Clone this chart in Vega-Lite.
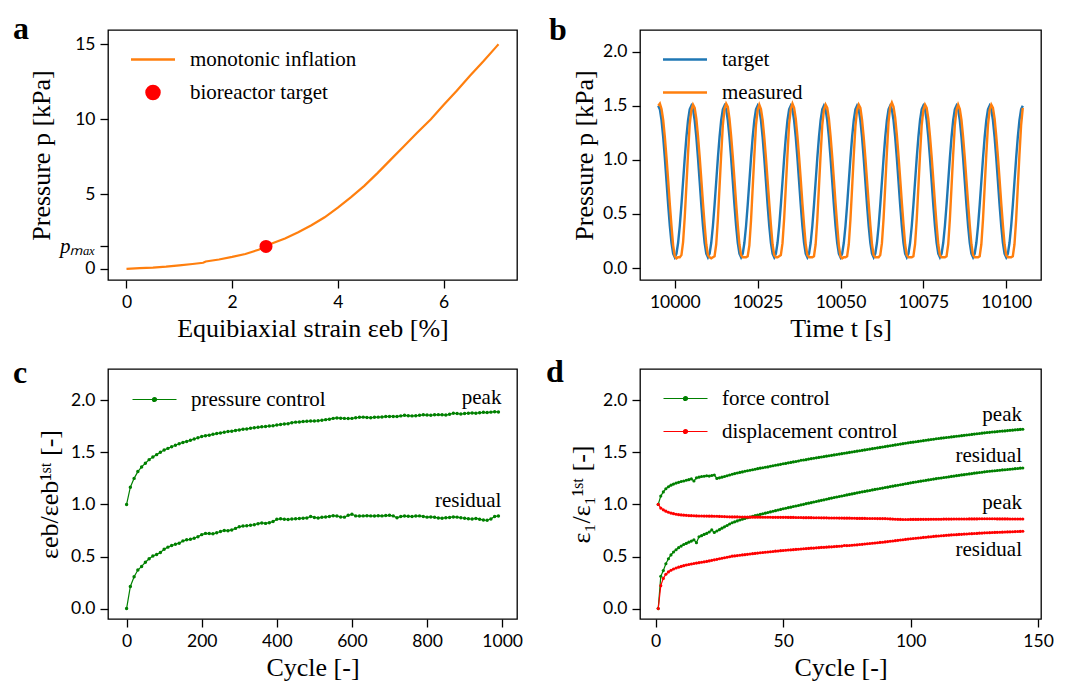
{
"$schema": "https://vega.github.io/schema/vega-lite/v6.json",
"background": "white",
"padding": {"left": 12, "top": 12, "right": 5, "bottom": 0},
"columns": 2,
"bounds": "flush",
"align": "each",
"spacing": {"row": 89, "column": 123},
"resolve": {"scale": {"color": "independent"}, "legend": {"color": "independent"}},
"datasets": {
"pa": [{"x":0,"p":0},{"x":0.25,"p":0.05},{"x":0.5,"p":0.09},{"x":0.75,"p":0.15},{"x":1,"p":0.24},{"x":1.25,"p":0.33},{"x":1.45,"p":0.41},{"x":1.5,"p":0.5},{"x":1.75,"p":0.63},{"x":2,"p":0.8},{"x":2.25,"p":1.0},{"x":2.5,"p":1.28},{"x":2.64,"p":1.5},{"x":2.75,"p":1.7},{"x":3,"p":2.03},{"x":3.25,"p":2.45},{"x":3.5,"p":2.92},{"x":3.75,"p":3.45},{"x":4,"p":4.1},{"x":4.25,"p":4.8},{"x":4.5,"p":5.55},{"x":4.75,"p":6.4},{"x":5,"p":7.3},{"x":5.25,"p":8.2},{"x":5.5,"p":9.1},{"x":5.76,"p":10.0},{"x":6,"p":10.95},{"x":6.25,"p":11.9},{"x":6.5,"p":12.9},{"x":6.75,"p":13.85},{"x":7,"p":14.85},{"x":7.04,"p":15.0}],
"pb": [
{"t":9995,"target":1.5,"measured":1.5},{"t":9995.5,"target":1.466,"measured":1.52},{"t":9996,"target":1.366,"measured":1.47},{"t":9996.5,"target":1.211,"measured":1.37},{"t":9997,"target":1.016,"measured":1.21},{"t":9997.5,"target":0.8,"measured":1.02},{"t":9998,"target":0.584,"measured":0.81},{"t":9998.5,"target":0.389,"measured":0.59},{"t":9999,"target":0.234,"measured":0.39},{"t":9999.5,"target":0.134,"measured":0.21},{"t":10000,"target":0.1,"measured":0.11},{"t":10000.5,"target":0.134,"measured":0.09},{"t":10001,"target":0.234,"measured":0.1},{"t":10001.5,"target":0.389,"measured":0.1},{"t":10002,"target":0.584,"measured":0.12},{"t":10002.5,"target":0.8,"measured":0.24},{"t":10003,"target":1.016,"measured":0.47},{"t":10003.5,"target":1.211,"measured":0.76},{"t":10004,"target":1.366,"measured":1.06},{"t":10004.5,"target":1.466,"measured":1.33},
{"t":10005,"target":1.5,"measured":1.46},{"t":10005.5,"target":1.466,"measured":1.51},{"t":10006,"target":1.366,"measured":1.48},{"t":10006.5,"target":1.211,"measured":1.38},{"t":10007,"target":1.016,"measured":1.22},{"t":10007.5,"target":0.8,"measured":1.03},{"t":10008,"target":0.584,"measured":0.82},{"t":10008.5,"target":0.389,"measured":0.6},{"t":10009,"target":0.234,"measured":0.4},{"t":10009.5,"target":0.134,"measured":0.22},{"t":10010,"target":0.1,"measured":0.12},{"t":10010.5,"target":0.134,"measured":0.1},{"t":10011,"target":0.234,"measured":0.09},{"t":10011.5,"target":0.389,"measured":0.1},{"t":10012,"target":0.584,"measured":0.11},{"t":10012.5,"target":0.8,"measured":0.22},{"t":10013,"target":1.016,"measured":0.45},{"t":10013.5,"target":1.211,"measured":0.75},{"t":10014,"target":1.366,"measured":1.05},{"t":10014.5,"target":1.466,"measured":1.32},
{"t":10015,"target":1.5,"measured":1.47},{"t":10015.5,"target":1.466,"measured":1.52},{"t":10016,"target":1.366,"measured":1.49},{"t":10016.5,"target":1.211,"measured":1.38},{"t":10017,"target":1.016,"measured":1.22},{"t":10017.5,"target":0.8,"measured":1.03},{"t":10018,"target":0.584,"measured":0.82},{"t":10018.5,"target":0.389,"measured":0.6},{"t":10019,"target":0.234,"measured":0.4},{"t":10019.5,"target":0.134,"measured":0.22},{"t":10020,"target":0.1,"measured":0.12},{"t":10020.5,"target":0.134,"measured":0.1},{"t":10021,"target":0.234,"measured":0.1},{"t":10021.5,"target":0.389,"measured":0.1},{"t":10022,"target":0.584,"measured":0.11},{"t":10022.5,"target":0.8,"measured":0.21},{"t":10023,"target":1.016,"measured":0.44},{"t":10023.5,"target":1.211,"measured":0.74},{"t":10024,"target":1.366,"measured":1.04},{"t":10024.5,"target":1.466,"measured":1.32},
{"t":10025,"target":1.5,"measured":1.46},{"t":10025.5,"target":1.466,"measured":1.51},{"t":10026,"target":1.366,"measured":1.47},{"t":10026.5,"target":1.211,"measured":1.37},{"t":10027,"target":1.016,"measured":1.21},{"t":10027.5,"target":0.8,"measured":1.02},{"t":10028,"target":0.584,"measured":0.81},{"t":10028.5,"target":0.389,"measured":0.6},{"t":10029,"target":0.234,"measured":0.4},{"t":10029.5,"target":0.134,"measured":0.22},{"t":10030,"target":0.1,"measured":0.12},{"t":10030.5,"target":0.134,"measured":0.1},{"t":10031,"target":0.234,"measured":0.1},{"t":10031.5,"target":0.389,"measured":0.11},{"t":10032,"target":0.584,"measured":0.12},{"t":10032.5,"target":0.8,"measured":0.23},{"t":10033,"target":1.016,"measured":0.46},{"t":10033.5,"target":1.211,"measured":0.75},{"t":10034,"target":1.366,"measured":1.05},{"t":10034.5,"target":1.466,"measured":1.33},
{"t":10035,"target":1.5,"measured":1.47},{"t":10035.5,"target":1.466,"measured":1.52},{"t":10036,"target":1.366,"measured":1.48},{"t":10036.5,"target":1.211,"measured":1.38},{"t":10037,"target":1.016,"measured":1.22},{"t":10037.5,"target":0.8,"measured":1.03},{"t":10038,"target":0.584,"measured":0.82},{"t":10038.5,"target":0.389,"measured":0.6},{"t":10039,"target":0.234,"measured":0.4},{"t":10039.5,"target":0.134,"measured":0.22},{"t":10040,"target":0.1,"measured":0.12},{"t":10040.5,"target":0.134,"measured":0.1},{"t":10041,"target":0.234,"measured":0.1},{"t":10041.5,"target":0.389,"measured":0.1},{"t":10042,"target":0.584,"measured":0.11},{"t":10042.5,"target":0.8,"measured":0.22},{"t":10043,"target":1.016,"measured":0.45},{"t":10043.5,"target":1.211,"measured":0.75},{"t":10044,"target":1.366,"measured":1.05},{"t":10044.5,"target":1.466,"measured":1.32},
{"t":10045,"target":1.5,"measured":1.46},{"t":10045.5,"target":1.466,"measured":1.51},{"t":10046,"target":1.366,"measured":1.48},{"t":10046.5,"target":1.211,"measured":1.38},{"t":10047,"target":1.016,"measured":1.22},{"t":10047.5,"target":0.8,"measured":1.03},{"t":10048,"target":0.584,"measured":0.82},{"t":10048.5,"target":0.389,"measured":0.6},{"t":10049,"target":0.234,"measured":0.4},{"t":10049.5,"target":0.134,"measured":0.21},{"t":10050,"target":0.1,"measured":0.11},{"t":10050.5,"target":0.134,"measured":0.09},{"t":10051,"target":0.234,"measured":0.1},{"t":10051.5,"target":0.389,"measured":0.1},{"t":10052,"target":0.584,"measured":0.11},{"t":10052.5,"target":0.8,"measured":0.22},{"t":10053,"target":1.016,"measured":0.45},{"t":10053.5,"target":1.211,"measured":0.74},{"t":10054,"target":1.366,"measured":1.04},{"t":10054.5,"target":1.466,"measured":1.31},
{"t":10055,"target":1.5,"measured":1.46},{"t":10055.5,"target":1.466,"measured":1.51},{"t":10056,"target":1.366,"measured":1.48},{"t":10056.5,"target":1.211,"measured":1.37},{"t":10057,"target":1.016,"measured":1.21},{"t":10057.5,"target":0.8,"measured":1.02},{"t":10058,"target":0.584,"measured":0.81},{"t":10058.5,"target":0.389,"measured":0.6},{"t":10059,"target":0.234,"measured":0.4},{"t":10059.5,"target":0.134,"measured":0.22},{"t":10060,"target":0.1,"measured":0.12},{"t":10060.5,"target":0.134,"measured":0.1},{"t":10061,"target":0.234,"measured":0.1},{"t":10061.5,"target":0.389,"measured":0.1},{"t":10062,"target":0.584,"measured":0.12},{"t":10062.5,"target":0.8,"measured":0.23},{"t":10063,"target":1.016,"measured":0.46},{"t":10063.5,"target":1.211,"measured":0.76},{"t":10064,"target":1.366,"measured":1.07},{"t":10064.5,"target":1.466,"measured":1.35},
{"t":10065,"target":1.5,"measured":1.49},{"t":10065.5,"target":1.466,"measured":1.53},{"t":10066,"target":1.366,"measured":1.49},{"t":10066.5,"target":1.211,"measured":1.39},{"t":10067,"target":1.016,"measured":1.23},{"t":10067.5,"target":0.8,"measured":1.04},{"t":10068,"target":0.584,"measured":0.83},{"t":10068.5,"target":0.389,"measured":0.61},{"t":10069,"target":0.234,"measured":0.41},{"t":10069.5,"target":0.134,"measured":0.22},{"t":10070,"target":0.1,"measured":0.12},{"t":10070.5,"target":0.134,"measured":0.1},{"t":10071,"target":0.234,"measured":0.1},{"t":10071.5,"target":0.389,"measured":0.1},{"t":10072,"target":0.584,"measured":0.11},{"t":10072.5,"target":0.8,"measured":0.22},{"t":10073,"target":1.016,"measured":0.45},{"t":10073.5,"target":1.211,"measured":0.75},{"t":10074,"target":1.366,"measured":1.05},{"t":10074.5,"target":1.466,"measured":1.32},
{"t":10075,"target":1.5,"measured":1.46},{"t":10075.5,"target":1.466,"measured":1.51},{"t":10076,"target":1.366,"measured":1.48},{"t":10076.5,"target":1.211,"measured":1.38},{"t":10077,"target":1.016,"measured":1.22},{"t":10077.5,"target":0.8,"measured":1.03},{"t":10078,"target":0.584,"measured":0.82},{"t":10078.5,"target":0.389,"measured":0.6},{"t":10079,"target":0.234,"measured":0.4},{"t":10079.5,"target":0.134,"measured":0.22},{"t":10080,"target":0.1,"measured":0.12},{"t":10080.5,"target":0.134,"measured":0.1},{"t":10081,"target":0.234,"measured":0.1},{"t":10081.5,"target":0.389,"measured":0.1},{"t":10082,"target":0.584,"measured":0.11},{"t":10082.5,"target":0.8,"measured":0.22},{"t":10083,"target":1.016,"measured":0.45},{"t":10083.5,"target":1.211,"measured":0.75},{"t":10084,"target":1.366,"measured":1.05},{"t":10084.5,"target":1.466,"measured":1.32},
{"t":10085,"target":1.5,"measured":1.46},{"t":10085.5,"target":1.466,"measured":1.51},{"t":10086,"target":1.366,"measured":1.47},{"t":10086.5,"target":1.211,"measured":1.37},{"t":10087,"target":1.016,"measured":1.21},{"t":10087.5,"target":0.8,"measured":1.02},{"t":10088,"target":0.584,"measured":0.81},{"t":10088.5,"target":0.389,"measured":0.6},{"t":10089,"target":0.234,"measured":0.4},{"t":10089.5,"target":0.134,"measured":0.22},{"t":10090,"target":0.1,"measured":0.12},{"t":10090.5,"target":0.134,"measured":0.1},{"t":10091,"target":0.234,"measured":0.1},{"t":10091.5,"target":0.389,"measured":0.1},{"t":10092,"target":0.584,"measured":0.11},{"t":10092.5,"target":0.8,"measured":0.22},{"t":10093,"target":1.016,"measured":0.45},{"t":10093.5,"target":1.211,"measured":0.75},{"t":10094,"target":1.366,"measured":1.05},{"t":10094.5,"target":1.466,"measured":1.32},
{"t":10095,"target":1.5,"measured":1.46},{"t":10095.5,"target":1.466,"measured":1.51},{"t":10096,"target":1.366,"measured":1.48},{"t":10096.5,"target":1.211,"measured":1.38},{"t":10097,"target":1.016,"measured":1.22},{"t":10097.5,"target":0.8,"measured":1.03},{"t":10098,"target":0.584,"measured":0.82},{"t":10098.5,"target":0.389,"measured":0.6},{"t":10099,"target":0.234,"measured":0.4},{"t":10099.5,"target":0.134,"measured":0.22},{"t":10100,"target":0.1,"measured":0.12},{"t":10100.5,"target":0.134,"measured":0.1},{"t":10101,"target":0.234,"measured":0.1},{"t":10101.5,"target":0.389,"measured":0.1},{"t":10102,"target":0.584,"measured":0.11},{"t":10102.5,"target":0.8,"measured":0.22},{"t":10103,"target":1.016,"measured":0.45},{"t":10103.5,"target":1.211,"measured":0.75},{"t":10104,"target":1.366,"measured":1.05},{"t":10104.5,"target":1.466,"measured":1.32},
{"t":10105,"target":1.5,"measured":1.48}
],
"pc": [
{"c":0,"p":1.0,"r":0.0},{"c":10,"p":1.165,"r":0.212},{"c":20,"p":1.25,"r":0.305},{"c":30,"p":1.315,"r":0.37},{"c":40,"p":1.36,"r":0.405},{"c":50,"p":1.395,"r":0.445},{"c":60,"p":1.43,"r":0.478},{"c":70,"p":1.455,"r":0.505},{"c":80,"p":1.478,"r":0.52},{"c":90,"p":1.5,"r":0.538},
{"c":100,"p":1.522,"r":0.57},{"c":110,"p":1.538,"r":0.59},{"c":120,"p":1.553,"r":0.605},{"c":130,"p":1.568,"r":0.618},{"c":140,"p":1.582,"r":0.628},{"c":150,"p":1.595,"r":0.65},{"c":160,"p":1.605,"r":0.66},{"c":170,"p":1.615,"r":0.665},{"c":180,"p":1.628,"r":0.675},{"c":190,"p":1.64,"r":0.69},
{"c":200,"p":1.652,"r":0.71},{"c":210,"p":1.66,"r":0.722},{"c":220,"p":1.665,"r":0.72},{"c":230,"p":1.673,"r":0.718},{"c":240,"p":1.68,"r":0.728},{"c":250,"p":1.686,"r":0.74},{"c":260,"p":1.693,"r":0.75},{"c":270,"p":1.7,"r":0.748},{"c":280,"p":1.703,"r":0.755},{"c":290,"p":1.71,"r":0.77},
{"c":300,"p":1.715,"r":0.785},{"c":310,"p":1.722,"r":0.792},{"c":320,"p":1.725,"r":0.795},{"c":330,"p":1.731,"r":0.8},{"c":340,"p":1.736,"r":0.805},{"c":350,"p":1.74,"r":0.815},{"c":360,"p":1.745,"r":0.822},{"c":370,"p":1.748,"r":0.818},{"c":380,"p":1.752,"r":0.825},{"c":390,"p":1.755,"r":0.835},
{"c":400,"p":1.762,"r":0.858},{"c":410,"p":1.768,"r":0.862},{"c":420,"p":1.772,"r":0.858},{"c":430,"p":1.775,"r":0.855},{"c":440,"p":1.785,"r":0.86},{"c":450,"p":1.79,"r":0.862},{"c":460,"p":1.792,"r":0.865},{"c":470,"p":1.795,"r":0.868},{"c":480,"p":1.798,"r":0.87},{"c":490,"p":1.8,"r":0.885},
{"c":500,"p":1.8,"r":0.875},{"c":510,"p":1.803,"r":0.87},{"c":520,"p":1.808,"r":0.876},{"c":530,"p":1.814,"r":0.88},{"c":540,"p":1.818,"r":0.885},{"c":550,"p":1.826,"r":0.892},{"c":560,"p":1.83,"r":0.888},{"c":570,"p":1.828,"r":0.88},{"c":580,"p":1.826,"r":0.878},{"c":590,"p":1.825,"r":0.895},
{"c":600,"p":1.826,"r":0.905},{"c":610,"p":1.832,"r":0.89},{"c":620,"p":1.836,"r":0.888},{"c":630,"p":1.838,"r":0.89},{"c":640,"p":1.835,"r":0.892},{"c":650,"p":1.833,"r":0.89},{"c":660,"p":1.836,"r":0.888},{"c":670,"p":1.838,"r":0.892},{"c":680,"p":1.84,"r":0.89},{"c":690,"p":1.843,"r":0.893},
{"c":700,"p":1.845,"r":0.895},{"c":710,"p":1.845,"r":0.89},{"c":720,"p":1.843,"r":0.872},{"c":730,"p":1.85,"r":0.885},{"c":740,"p":1.855,"r":0.888},{"c":750,"p":1.852,"r":0.886},{"c":760,"p":1.85,"r":0.884},{"c":770,"p":1.852,"r":0.888},{"c":780,"p":1.855,"r":0.89},{"c":790,"p":1.86,"r":0.885},
{"c":800,"p":1.858,"r":0.878},{"c":810,"p":1.856,"r":0.88},{"c":820,"p":1.86,"r":0.876},{"c":830,"p":1.862,"r":0.87},{"c":840,"p":1.86,"r":0.868},{"c":850,"p":1.858,"r":0.872},{"c":860,"p":1.865,"r":0.875},{"c":870,"p":1.875,"r":0.88},{"c":880,"p":1.872,"r":0.878},{"c":890,"p":1.868,"r":0.872},
{"c":900,"p":1.872,"r":0.868},{"c":910,"p":1.875,"r":0.862},{"c":920,"p":1.878,"r":0.86},{"c":930,"p":1.876,"r":0.865},{"c":940,"p":1.88,"r":0.858},{"c":950,"p":1.884,"r":0.85},{"c":960,"p":1.882,"r":0.848},{"c":970,"p":1.886,"r":0.86},{"c":980,"p":1.89,"r":0.885},{"c":990,"p":1.888,"r":0.888}
],
"pd": [
{"c":1,"fp":1.0,"fr":0.0,"dp":1.0,"dr":0.0},{"c":2,"fp":1.08,"fr":0.31,"dp":0.965,"dr":0.22},{"c":3,"fp":1.12,"fr":0.365,"dp":0.948,"dr":0.29},{"c":4,"fp":1.15,"fr":0.43,"dp":0.935,"dr":0.33},{"c":5,"fp":1.17,"fr":0.478,"dp":0.925,"dr":0.352},{"c":6,"fp":1.185,"fr":0.515,"dp":0.917,"dr":0.368},{"c":7,"fp":1.195,"fr":0.543,"dp":0.911,"dr":0.38},{"c":8,"fp":1.205,"fr":0.565,"dp":0.906,"dr":0.39},{"c":9,"fp":1.212,"fr":0.585,"dp":0.902,"dr":0.398},{"c":10,"fp":1.22,"fr":0.6,"dp":0.899,"dr":0.405},
{"c":11,"fp":1.225,"fr":0.615,"dp":0.897,"dr":0.412},{"c":12,"fp":1.232,"fr":0.626,"dp":0.895,"dr":0.418},{"c":13,"fp":1.238,"fr":0.638,"dp":0.893,"dr":0.423},{"c":14,"fp":1.245,"fr":0.648,"dp":0.892,"dr":0.428},{"c":15,"fp":1.225,"fr":0.66,"dp":0.891,"dr":0.433},{"c":16,"fp":1.255,"fr":0.632,"dp":0.89,"dr":0.437},{"c":17,"fp":1.262,"fr":0.69,"dp":0.889,"dr":0.441},{"c":18,"fp":1.268,"fr":0.7,"dp":0.889,"dr":0.445},{"c":19,"fp":1.27,"fr":0.712,"dp":0.888,"dr":0.449},{"c":20,"fp":1.275,"fr":0.722,"dp":0.888,"dr":0.453},
{"c":21,"fp":1.272,"fr":0.735,"dp":0.887,"dr":0.458},{"c":22,"fp":1.278,"fr":0.755,"dp":0.887,"dr":0.463},{"c":23,"fp":1.282,"fr":0.73,"dp":0.886,"dr":0.468},{"c":24,"fp":1.25,"fr":0.745,"dp":0.886,"dr":0.473},{"c":25,"fp":1.255,"fr":0.758,"dp":0.885,"dr":0.478},{"c":26,"fp":1.262,"fr":0.772,"dp":0.884,"dr":0.483},{"c":27,"fp":1.268,"fr":0.785,"dp":0.883,"dr":0.488},{"c":28,"fp":1.275,"fr":0.798,"dp":0.882,"dr":0.493},{"c":29,"fp":1.282,"fr":0.812,"dp":0.881,"dr":0.498},{"c":30,"fp":1.29,"fr":0.824,"dp":0.88,"dr":0.503},
{"c":31,"fp":1.296,"fr":0.833,"dp":0.88,"dr":0.506},{"c":32,"fp":1.302,"fr":0.842,"dp":0.88,"dr":0.509},{"c":33,"fp":1.307,"fr":0.85,"dp":0.879,"dr":0.512},{"c":34,"fp":1.312,"fr":0.858,"dp":0.879,"dr":0.515},{"c":35,"fp":1.318,"fr":0.865,"dp":0.879,"dr":0.518},{"c":36,"fp":1.323,"fr":0.872,"dp":0.878,"dr":0.521},{"c":37,"fp":1.328,"fr":0.879,"dp":0.878,"dr":0.524},{"c":38,"fp":1.333,"fr":0.886,"dp":0.878,"dr":0.527},{"c":39,"fp":1.338,"fr":0.892,"dp":0.878,"dr":0.53},{"c":40,"fp":1.343,"fr":0.898,"dp":0.878,"dr":0.533},
{"c":41,"fp":1.348,"fr":0.904,"dp":0.878,"dr":0.536},{"c":42,"fp":1.352,"fr":0.91,"dp":0.877,"dr":0.538},{"c":43,"fp":1.357,"fr":0.916,"dp":0.877,"dr":0.541},{"c":44,"fp":1.36,"fr":0.922,"dp":0.877,"dr":0.543},{"c":45,"fp":1.366,"fr":0.928,"dp":0.877,"dr":0.546},{"c":46,"fp":1.371,"fr":0.934,"dp":0.876,"dr":0.548},{"c":47,"fp":1.376,"fr":0.94,"dp":0.876,"dr":0.551},{"c":48,"fp":1.38,"fr":0.946,"dp":0.876,"dr":0.553},{"c":49,"fp":1.385,"fr":0.952,"dp":0.876,"dr":0.556},{"c":50,"fp":1.39,"fr":0.958,"dp":0.876,"dr":0.558},
{"c":51,"fp":1.394,"fr":0.963,"dp":0.876,"dr":0.56},{"c":52,"fp":1.399,"fr":0.969,"dp":0.875,"dr":0.562},{"c":53,"fp":1.403,"fr":0.974,"dp":0.875,"dr":0.564},{"c":54,"fp":1.408,"fr":0.98,"dp":0.875,"dr":0.566},{"c":55,"fp":1.412,"fr":0.985,"dp":0.874,"dr":0.568},{"c":56,"fp":1.417,"fr":0.99,"dp":0.874,"dr":0.57},{"c":57,"fp":1.424,"fr":0.996,"dp":0.874,"dr":0.572},{"c":58,"fp":1.426,"fr":1.001,"dp":0.873,"dr":0.574},{"c":59,"fp":1.43,"fr":1.007,"dp":0.873,"dr":0.576},{"c":60,"fp":1.435,"fr":1.012,"dp":0.873,"dr":0.578},
{"c":61,"fp":1.439,"fr":1.017,"dp":0.873,"dr":0.58},{"c":62,"fp":1.443,"fr":1.023,"dp":0.872,"dr":0.581},{"c":63,"fp":1.447,"fr":1.028,"dp":0.872,"dr":0.583},{"c":64,"fp":1.451,"fr":1.034,"dp":0.872,"dr":0.585},{"c":65,"fp":1.455,"fr":1.039,"dp":0.871,"dr":0.587},{"c":66,"fp":1.459,"fr":1.044,"dp":0.871,"dr":0.588},{"c":67,"fp":1.463,"fr":1.05,"dp":0.871,"dr":0.59},{"c":68,"fp":1.467,"fr":1.055,"dp":0.87,"dr":0.592},{"c":69,"fp":1.471,"fr":1.061,"dp":0.87,"dr":0.593},{"c":70,"fp":1.475,"fr":1.066,"dp":0.87,"dr":0.595},
{"c":71,"fp":1.479,"fr":1.071,"dp":0.87,"dr":0.597},{"c":72,"fp":1.483,"fr":1.076,"dp":0.869,"dr":0.598},{"c":73,"fp":1.487,"fr":1.081,"dp":0.869,"dr":0.6},{"c":74,"fp":1.491,"fr":1.086,"dp":0.868,"dr":0.606},{"c":75,"fp":1.495,"fr":1.091,"dp":0.868,"dr":0.605},{"c":76,"fp":1.499,"fr":1.096,"dp":0.868,"dr":0.606},{"c":77,"fp":1.503,"fr":1.101,"dp":0.867,"dr":0.608},{"c":78,"fp":1.507,"fr":1.106,"dp":0.867,"dr":0.61},{"c":79,"fp":1.511,"fr":1.111,"dp":0.866,"dr":0.612},{"c":80,"fp":1.515,"fr":1.116,"dp":0.866,"dr":0.615},
{"c":81,"fp":1.519,"fr":1.121,"dp":0.866,"dr":0.617},{"c":82,"fp":1.523,"fr":1.125,"dp":0.866,"dr":0.62},{"c":83,"fp":1.527,"fr":1.13,"dp":0.865,"dr":0.622},{"c":84,"fp":1.531,"fr":1.134,"dp":0.865,"dr":0.625},{"c":85,"fp":1.535,"fr":1.139,"dp":0.865,"dr":0.627},{"c":86,"fp":1.539,"fr":1.144,"dp":0.865,"dr":0.63},{"c":87,"fp":1.543,"fr":1.148,"dp":0.864,"dr":0.632},{"c":88,"fp":1.547,"fr":1.153,"dp":0.864,"dr":0.635},{"c":89,"fp":1.551,"fr":1.157,"dp":0.864,"dr":0.637},{"c":90,"fp":1.555,"fr":1.162,"dp":0.864,"dr":0.64},
{"c":91,"fp":1.559,"fr":1.166,"dp":0.862,"dr":0.643},{"c":92,"fp":1.563,"fr":1.171,"dp":0.861,"dr":0.646},{"c":93,"fp":1.567,"fr":1.175,"dp":0.859,"dr":0.649},{"c":94,"fp":1.571,"fr":1.18,"dp":0.858,"dr":0.652},{"c":95,"fp":1.575,"fr":1.184,"dp":0.857,"dr":0.655},{"c":96,"fp":1.579,"fr":1.189,"dp":0.856,"dr":0.658},{"c":97,"fp":1.583,"fr":1.193,"dp":0.855,"dr":0.661},{"c":98,"fp":1.587,"fr":1.198,"dp":0.855,"dr":0.664},{"c":99,"fp":1.591,"fr":1.202,"dp":0.855,"dr":0.667},{"c":100,"fp":1.595,"fr":1.207,"dp":0.856,"dr":0.67},
{"c":101,"fp":1.598,"fr":1.211,"dp":0.856,"dr":0.673},{"c":102,"fp":1.602,"fr":1.215,"dp":0.856,"dr":0.675},{"c":103,"fp":1.605,"fr":1.219,"dp":0.856,"dr":0.678},{"c":104,"fp":1.609,"fr":1.223,"dp":0.857,"dr":0.68},{"c":105,"fp":1.612,"fr":1.227,"dp":0.857,"dr":0.683},{"c":106,"fp":1.616,"fr":1.231,"dp":0.857,"dr":0.685},{"c":107,"fp":1.619,"fr":1.235,"dp":0.857,"dr":0.688},{"c":108,"fp":1.623,"fr":1.239,"dp":0.858,"dr":0.69},{"c":109,"fp":1.626,"fr":1.243,"dp":0.858,"dr":0.693},{"c":110,"fp":1.63,"fr":1.247,"dp":0.858,"dr":0.695},
{"c":111,"fp":1.633,"fr":1.251,"dp":0.858,"dr":0.697},{"c":112,"fp":1.636,"fr":1.254,"dp":0.858,"dr":0.699},{"c":113,"fp":1.639,"fr":1.258,"dp":0.859,"dr":0.701},{"c":114,"fp":1.642,"fr":1.261,"dp":0.859,"dr":0.703},{"c":115,"fp":1.645,"fr":1.265,"dp":0.859,"dr":0.705},{"c":116,"fp":1.648,"fr":1.269,"dp":0.859,"dr":0.707},{"c":117,"fp":1.651,"fr":1.272,"dp":0.86,"dr":0.709},{"c":118,"fp":1.654,"fr":1.276,"dp":0.86,"dr":0.71},{"c":119,"fp":1.657,"fr":1.279,"dp":0.86,"dr":0.712},{"c":120,"fp":1.66,"fr":1.283,"dp":0.86,"dr":0.713},
{"c":121,"fp":1.663,"fr":1.286,"dp":0.86,"dr":0.715},{"c":122,"fp":1.666,"fr":1.29,"dp":0.86,"dr":0.716},{"c":123,"fp":1.669,"fr":1.293,"dp":0.861,"dr":0.718},{"c":124,"fp":1.672,"fr":1.296,"dp":0.861,"dr":0.719},{"c":125,"fp":1.675,"fr":1.3,"dp":0.861,"dr":0.721},{"c":126,"fp":1.678,"fr":1.303,"dp":0.861,"dr":0.722},{"c":127,"fp":1.681,"fr":1.306,"dp":0.862,"dr":0.724},{"c":128,"fp":1.684,"fr":1.309,"dp":0.862,"dr":0.725},{"c":129,"fp":1.687,"fr":1.313,"dp":0.862,"dr":0.727},{"c":130,"fp":1.69,"fr":1.316,"dp":0.862,"dr":0.728},
{"c":131,"fp":1.692,"fr":1.318,"dp":0.862,"dr":0.729},{"c":132,"fp":1.695,"fr":1.321,"dp":0.862,"dr":0.73},{"c":133,"fp":1.697,"fr":1.323,"dp":0.862,"dr":0.731},{"c":134,"fp":1.699,"fr":1.326,"dp":0.861,"dr":0.732},{"c":135,"fp":1.702,"fr":1.328,"dp":0.861,"dr":0.733},{"c":136,"fp":1.704,"fr":1.331,"dp":0.861,"dr":0.734},{"c":137,"fp":1.706,"fr":1.333,"dp":0.861,"dr":0.735},{"c":138,"fp":1.709,"fr":1.335,"dp":0.861,"dr":0.736},{"c":139,"fp":1.711,"fr":1.338,"dp":0.86,"dr":0.737},{"c":140,"fp":1.713,"fr":1.34,"dp":0.86,"dr":0.738},
{"c":141,"fp":1.716,"fr":1.343,"dp":0.86,"dr":0.739},{"c":142,"fp":1.718,"fr":1.345,"dp":0.86,"dr":0.74},{"c":143,"fp":1.72,"fr":1.348,"dp":0.86,"dr":0.741},{"c":144,"fp":1.722,"fr":1.35,"dp":0.86,"dr":0.742}
]
},
"concat": [
{
 "width": 409, "height": 250,
 "title": {"text": "a", "dx": -95, "dy": 20},
 "layer": [
  {"data": {"name": "pa"},
   "mark": {"type": "line", "strokeWidth": 2.2},
   "encoding": {
    "x": {"field": "x", "type": "quantitative", "scale": {"domain": [-0.35, 7.39], "nice": false, "zero": false}, "axis": {"values": [0, 2, 4, 6], "format": "d", "title": "Equibiaxial strain εeb [%]"}},
    "y": {"field": "p", "type": "quantitative", "scale": {"domain": [-0.74, 15.96], "nice": false, "zero": false}, "axis": {"values": [0, 1.5, 5, 10, 15], "format": "d", "title": "Pressure p [kPa]", "labelExpr": "datum.value == 1.5 ? 'pₘₐₓ' : datum.label", "labelFont": {"condition": {"test": "datum.value == 1.5", "value": "Liberation Serif"}, "value": "Lato"}, "labelFontStyle": {"condition": {"test": "datum.value == 1.5", "value": "italic"}, "value": "normal"}, "labelFontSize": {"condition": {"test": "datum.value == 1.5", "value": 21}, "value": 17.5}}},
    "color": {"datum": "monotonic inflation", "scale": {"domain": ["monotonic inflation", "bioreactor target"], "range": ["#ff7f0e", "#ff0000"]},
     "legend": {"title": null, "symbolType": "M-1.3,0H7.5", "symbolStrokeWidth": 2.5, "offset": 19,
      "encode": {"symbols": {"update": {
       "shape": {"signal": "datum.value === 'bioreactor target' ? 'M1.8,0A1.3,1.3 0 1 1 4.4,0A1.3,1.3 0 1 1 1.8,0Z' : 'M-1.3,0H7.5'"},
       "fill": {"signal": "datum.value === 'bioreactor target' ? '#ff0000' : 'transparent'"},
       "stroke": {"signal": "datum.value === 'bioreactor target' ? 'transparent' : '#ff7f0e'"},
       "strokeWidth": {"value": 2.5},
       "opacity": {"value": 1}}}}}}
   }},
  {"data": {"values": [{"x": 2.64, "p": 1.5}]},
   "mark": {"type": "point", "filled": true, "size": 170, "opacity": 1},
   "encoding": {
    "x": {"field": "x", "type": "quantitative"},
    "y": {"field": "p", "type": "quantitative"},
    "color": {"datum": "bioreactor target"}
   }}
 ]
},
{
 "width": 401, "height": 250,
 "title": {"text": "b", "dx": -91, "dy": 21},
 "data": {"name": "pb"},
 "transform": [{"fold": ["target", "measured"], "as": ["k", "v"]}],
 "mark": {"type": "line", "strokeWidth": 2.4},
 "encoding": {
  "x": {"field": "t", "type": "quantitative", "scale": {"domain": [9989.5, 10110.5], "nice": false, "zero": false}, "axis": {"values": [10000, 10025, 10050, 10075, 10100], "format": "d", "title": "Time t [s]"}},
  "y": {"field": "v", "type": "quantitative", "scale": {"domain": [-0.11, 2.2], "nice": false, "zero": false}, "axis": {"values": [0, 0.5, 1, 1.5, 2], "format": ".1f", "title": "Pressure p [kPa]"}},
  "color": {"field": "k", "type": "nominal", "sort": ["target", "measured"], "scale": {"domain": ["target", "measured"], "range": ["#1f77b4", "#ff7f0e"]}, "legend": {"title": null, "symbolType": "M-1.3,0H7.5", "symbolStrokeWidth": 2.5, "offset": 19}}
 }
},
{
 "width": 409, "height": 250,
 "title": {"text": "c", "dx": -95, "dy": 25},
 "layer": [
  {"data": {"name": "pc"},
   "transform": [{"fold": ["p", "r"], "as": ["k", "v"]}],
   "mark": {"type": "line", "strokeWidth": 1.2, "point": {"filled": true, "size": 12, "opacity": 1}},
   "encoding": {
    "x": {"field": "c", "type": "quantitative", "scale": {"domain": [-49.5, 1039.5], "nice": false, "zero": false}, "axis": {"values": [0, 200, 400, 600, 800, 1000], "format": "d", "title": "Cycle [-]"}},
    "y": {"field": "v", "type": "quantitative", "scale": {"domain": [-0.1, 2.3], "nice": false, "zero": false}, "axis": {"values": [0, 0.5, 1, 1.5, 2], "format": ".1f", "title": "εeb/εeb¹ˢᵗ [-]", "titlePadding": 8}},
    "detail": {"field": "k"},
    "color": {"datum": "pressure control", "scale": {"domain": ["pressure control"], "range": ["#008000"]},
     "legend": {"title": null, "symbolType": "M-1.2,0H7.6M2.8,0A0.4,0.4 0 1 1 3.6,0A0.4,0.4 0 1 1 2.8,0Z", "symbolStrokeWidth": 1.2, "offset": 20,
      "encode": {"symbols": {"update": {"fill": {"value": "#008000"}, "stroke": {"value": "#008000"}, "strokeWidth": {"value": 1.2}, "opacity": {"value": 1}}}}}}
   }},
  {"data": {"values": [{"x": 998, "y": 1.96, "t": "peak"}, {"x": 998, "y": 0.975, "t": "residual"}]},
   "mark": {"type": "text", "align": "right", "baseline": "alphabetic", "font": "Liberation Serif", "fontSize": 21, "color": "#000"},
   "encoding": {"x": {"field": "x", "type": "quantitative"}, "y": {"field": "y", "type": "quantitative"}, "text": {"field": "t"}}}
 ]
},
{
 "width": 401, "height": 250,
 "title": {"text": "d", "dx": -94, "dy": 24},
 "layer": [
  {"data": {"name": "pd"},
   "transform": [{"fold": ["fp", "fr"], "as": ["k", "v"]}],
   "mark": {"type": "line", "strokeWidth": 1.2, "point": {"filled": true, "size": 10, "opacity": 1}},
   "encoding": {
    "x": {"field": "c", "type": "quantitative", "scale": {"domain": [-6.15, 151.15], "nice": false, "zero": false}, "axis": {"values": [0, 50, 100, 150], "format": "d", "title": "Cycle [-]"}},
    "y": {"field": "v", "type": "quantitative", "scale": {"domain": [-0.1, 2.3], "nice": false, "zero": false}, "axis": {"values": [0, 0.5, 1, 1.5, 2], "format": ".1f", "title": "ε₁/ε₁¹ˢᵗ [-]", "titlePadding": 8}},
    "detail": {"field": "k"},
    "color": {"datum": "force control", "scale": {"domain": ["force control", "displacement control"], "range": ["#008000", "#ff0000"]},
     "legend": {"title": null, "symbolType": "M-1.2,0H7.6M2.8,0A0.4,0.4 0 1 1 3.6,0A0.4,0.4 0 1 1 2.8,0Z", "symbolStrokeWidth": 1.2, "offset": 19,
      "encode": {"symbols": {"update": {
       "fill": {"signal": "datum.value === 'force control' ? '#008000' : '#ff0000'"},
       "stroke": {"signal": "datum.value === 'force control' ? '#008000' : '#ff0000'"},
       "strokeWidth": {"value": 1.2}, "opacity": {"value": 1}}}}}}
   }},
  {"data": {"name": "pd"},
   "transform": [{"fold": ["dp", "dr"], "as": ["k", "v"]}],
   "mark": {"type": "line", "strokeWidth": 1.2, "point": {"filled": true, "size": 10, "opacity": 1}},
   "encoding": {
    "x": {"field": "c", "type": "quantitative"},
    "y": {"field": "v", "type": "quantitative"},
    "detail": {"field": "k"},
    "color": {"datum": "displacement control"}
   }},
  {"data": {"values": [{"x": 143.7, "y": 1.8, "t": "peak"}, {"x": 143.7, "y": 1.404, "t": "residual"}, {"x": 143.7, "y": 0.959, "t": "peak"}, {"x": 143.7, "y": 0.507, "t": "residual"}]},
   "mark": {"type": "text", "align": "right", "baseline": "alphabetic", "font": "Liberation Serif", "fontSize": 21, "color": "#000"},
   "encoding": {"x": {"field": "x", "type": "quantitative"}, "y": {"field": "y", "type": "quantitative"}, "text": {"field": "t"}}}
 ]
}
],
"config": {
 "font": "Liberation Serif",
 "view": {"stroke": "#000", "strokeWidth": 1.3},
 "axis": {"grid": false, "domain": false, "tickColor": "#000", "tickSize": 8, "tickWidth": 1.3, "labelFont": "Lato", "labelFontSize": 17.5, "labelColor": "#000", "labelFlush": false, "labelOverlap": false, "titleFont": "Liberation Serif", "titleFontSize": 26, "titleFontWeight": "normal", "titleColor": "#000"},
 "axisX": {"labelPadding": 5, "titlePadding": 5},
 "axisY": {"labelPadding": 5, "titlePadding": 5},
 "title": {"font": "Liberation Serif", "fontSize": 32, "fontWeight": "bold", "anchor": "start", "frame": "group", "offset": 0, "baseline": "alphabetic", "color": "#000"},
 "legend": {"orient": "top-left", "offset": 18, "padding": 0, "rowPadding": 11, "labelFont": "Liberation Serif", "labelFontSize": 21, "labelColor": "#000", "labelOffset": 42, "labelLimit": 400, "symbolSize": 100}
}
}
